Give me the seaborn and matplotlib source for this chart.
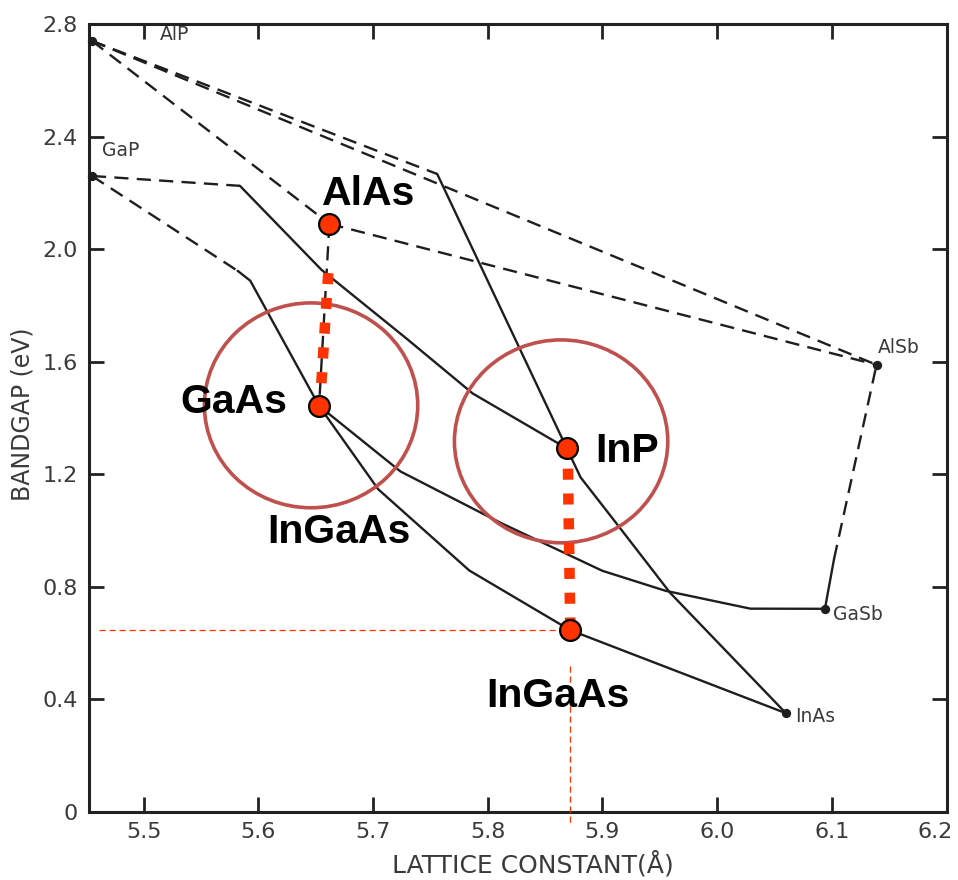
import matplotlib
matplotlib.use("Agg")
import matplotlib.pyplot as plt
from matplotlib.patches import Ellipse
from matplotlib.transforms import ScaledTranslation
import seaborn as sns

# ---------------- data ----------------
compounds = ["AlP", "GaP", "AlSb", "GaSb", "InAs"]
comp_lattice = [5.455, 5.455, 6.139, 6.094, 6.060]
comp_gap = [2.74, 2.26, 1.589, 0.722, 0.351]

# alloy curves
alp_alsb_x, alp_alsb_y = [5.455, 6.139], [2.74, 1.589]
alp_kink_x, alp_kink_y = [5.455, 5.756], [2.74, 2.267]
alinp_x, alinp_y = [5.756, 5.869], [2.267, 1.292]
alp_alas_x, alp_alas_y = [5.455, 5.662], [2.74, 2.09]
alas_alsb_x, alas_alsb_y = [5.662, 6.139], [2.09, 1.589]
alas_gaas_x, alas_gaas_y = [5.662, 5.653], [2.09, 1.443]
gap_inp_d_x, gap_inp_d_y = [5.455, 5.584], [2.26, 2.225]
gap_inp_x = [5.584, 5.655, 5.729, 5.787, 5.869]
gap_inp_y = [2.225, 1.927, 1.683, 1.487, 1.292]
gap_gaas_d_x, gap_gaas_d_y = [5.455, 5.582], [2.26, 1.923]
gap_gaas_x, gap_gaas_y = [5.582, 5.593, 5.653], [1.923, 1.888, 1.443]
gaas_gasb_x = [5.653, 5.724, 5.812, 5.900, 5.955, 6.029, 6.094]
gaas_gasb_y = [1.443, 1.210, 1.026, 0.857, 0.786, 0.7225, 0.722]
gaas_inas_x = [5.653, 5.7045, 5.784, 5.872, 6.060]
gaas_inas_y = [1.443, 1.147, 0.858, 0.646, 0.351]
inp_inas_x = [5.869, 5.881, 5.911, 5.959, 6.060]
inp_inas_y = [1.292, 1.189, 1.032, 0.779, 0.351]
gasb_alsb_s_x, gasb_alsb_s_y = [6.094, 6.102], [0.722, 0.900]
gasb_alsb_d_x, gasb_alsb_d_y = [6.102, 6.139], [0.900, 1.589]

# highlighted materials
hl_names = ["AlAs", "GaAs", "InP", "InGaAs"]
hl_x = [5.662, 5.653, 5.869, 5.872]
hl_y = [2.09, 1.443, 1.292, 0.646]

# red square-dotted connectors
red1_x, red1_y = [5.661, 5.654], [1.915, 1.46]
red2_x, red2_y = [5.870, 5.872], [1.22, 0.66]

# thin guide lines
guide_h_x, guide_h_y = [5.461, 5.872], [0.646, 0.646]
guide_v_x, guide_v_y = [5.872, 5.872], [0.52, -0.04]

xticks = [5.5, 5.6, 5.7, 5.8, 5.9, 6.0, 6.1, 6.2]
xtick_labels = ["5.5", "5.6", "5.7", "5.8", "5.9", "6.0", "6.1", "6.2"]
yticks = [0, 0.4, 0.8, 1.2, 1.6, 2.0, 2.4, 2.8]
ytick_labels = ["0", "0.4", "0.8", "1.2", "1.6", "2.0", "2.4", "2.8"]

# ---------------- plotting ----------------
sns.set_theme(style="ticks")
plt.rcParams["font.family"] = ["DejaVu Sans"]

fig = plt.figure(figsize=(9.58, 8.8), dpi=100)
ax = fig.add_axes([0.0924, 0.0773, 0.8956, 0.8954])

BLACK = "#1e1e1e"
DASH = (0, (6, 3.5))


def curve(x, y, dashed=False):
    sns.lineplot(x=x, y=y, ax=ax, sort=False, estimator=None, errorbar=None,
                 color=BLACK, lw=1.7, linestyle=DASH if dashed else "-",
                 legend=False, zorder=2)


curve(alp_alsb_x, alp_alsb_y, True)
curve(alp_kink_x, alp_kink_y, True)
curve(alinp_x, alinp_y)
curve(alp_alas_x, alp_alas_y, True)
curve(alas_alsb_x, alas_alsb_y, True)
curve(alas_gaas_x, alas_gaas_y, True)
curve(gap_inp_d_x, gap_inp_d_y, True)
curve(gap_inp_x, gap_inp_y)
curve(gap_gaas_d_x, gap_gaas_d_y, True)
curve(gap_gaas_x, gap_gaas_y)
curve(gaas_gasb_x, gaas_gasb_y)
curve(gaas_inas_x, gaas_inas_y)
curve(inp_inas_x, inp_inas_y)
curve(gasb_alsb_s_x, gasb_alsb_s_y)
curve(gasb_alsb_d_x, gasb_alsb_d_y, True)

# binary compound dots
sns.scatterplot(x=comp_lattice, y=comp_gap, ax=ax, s=45, color=BLACK,
                edgecolor=BLACK, linewidth=0, zorder=3, clip_on=False, legend=False)

# big circles
RING = "#C0504D"
for cx, cy, h in [(5.646, 1.445, 0.728), (5.864, 1.317, 0.721)]:
    ax.add_patch(Ellipse((cx, cy), 0.186, h, fill=False, ec=RING, lw=2.6, zorder=3))

RED = "#FF3300"
# thin red guides
for gx, gy in [(guide_h_x, guide_h_y), (guide_v_x, guide_v_y)]:
    ln = ax.plot(gx, gy, color=RED, lw=0.9, linestyle=(0, (5, 3)), zorder=3)
    ln[0].set_clip_on(False)

# red square-dotted connectors
for rx, ry in [(red1_x, red1_y), (red2_x, red2_y)]:
    sns.lineplot(x=rx, y=ry, ax=ax, sort=False, estimator=None, errorbar=None,
                 color=RED, lw=7.6, linestyle=(0, (1.05, 1.3)),
                 dash_capstyle="butt", legend=False, zorder=4)

# highlighted markers
sns.scatterplot(x=hl_x, y=hl_y, ax=ax, s=225, color=RED, edgecolor="black",
                linewidth=1.6, zorder=5, legend=False)

# big labels
big = dict(fontfamily="Liberation Sans", fontweight="bold", fontsize=29.5,
           color="black", ha="center", va="baseline", zorder=6)
ax.text(5.6966, 2.157, "AlAs", **big)
ax.text(5.5785, 1.418, "GaAs", **big)
ax.text(5.670, 0.956, "InGaAs", **big)
ax.text(5.9215, 1.244, "InP", **big)
ax.text(5.861, 0.373, "InGaAs", **big)

# small compound labels
small = dict(fontsize=13.5, color="#3a3a3a", ha="left", va="center", zorder=6)
ax.text(5.5143, 2.761, "AlP", **small)
ax.text(5.4638, 2.349, "GaP", **small)
ax.text(6.1403, 1.649, "AlSb", **small)
ax.text(6.1011, 0.700, "GaSb", **small)
ax.text(6.068, 0.341, "InAs", **small)

# axes formatting
ax.set_xlim(5.452, 6.2)
ax.set_ylim(0, 2.8)
ax.set_xticks(xticks)
ax.set_xticklabels(xtick_labels)
ax.set_yticks(yticks)
ax.set_yticklabels(ytick_labels)
ax.tick_params(axis="both", direction="in", length=11, width=2, top=True,
               right=True, labelsize=16, labelcolor="#3a3a3a", color="#222")
ax.tick_params(axis="x", pad=7)
ax.tick_params(axis="y", pad=8)
for s in ax.spines.values():
    s.set_linewidth(2.2)
    s.set_color("#222")
ax.grid(False)

# keep the last x tick label inside the canvas
last = ax.get_xticklabels()[-1]
last.set_transform(last.get_transform() + ScaledTranslation(-8 / 72, 0, fig.dpi_scale_trans))

ax.set_xlabel("LATTICE CONSTANT(Å)", fontsize=18, color="#3a3a3a")
ax.xaxis.set_label_coords(0.518, -0.066)
ax.xaxis.label.set_va("center")
ax.set_ylabel("BANDGAP (eV)", fontsize=17, color="#3a3a3a")
ax.yaxis.set_label_coords(-0.0775, 0.505)
ax.yaxis.label.set_va("center")

fig.savefig("out.png", dpi=100)
